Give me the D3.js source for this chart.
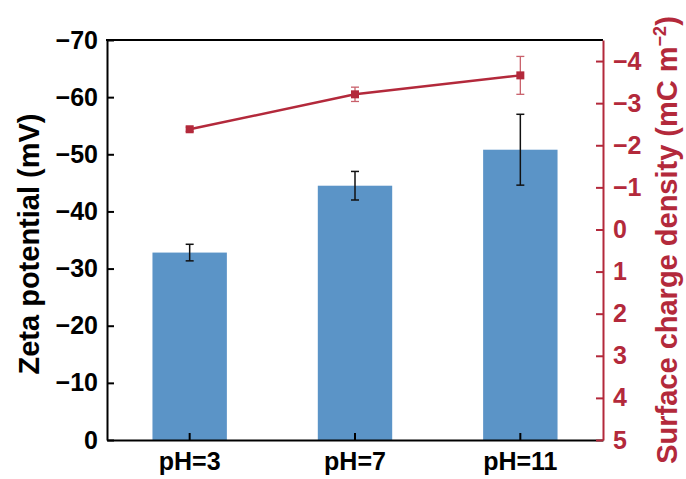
<!DOCTYPE html>
<html>
<head>
<meta charset="utf-8">
<script src="https://cdn.jsdelivr.net/npm/d3@7"></script>
<style>
  html, body { margin: 0; padding: 0; background: #fff; }
  svg { display: block; font-family: "Liberation Sans", Arial, sans-serif; }
</style>
</head>
<body>
<svg id="chart" width="686" height="479"></svg>
<script>
// Categories and measured values
const categories = ["pH=3", "pH=7", "pH=11"];
const zetaPotential = [-32.8, -44.5, -50.8];      // mV
const zetaError = [1.45, 2.5, 6.2];
const chargeDensity = [-2.38, -3.21, -3.66];     // mC m^-2
const chargeError = [0.05, 0.17, 0.45];
const leftTicks = [0, -10, -20, -30, -40, -50, -60, -70];
const rightTicks = [5, 4, 3, 2, 1, 0, -1, -2, -3, -4];

const blue = "#5b94c7";
const red = "#b3293b";

const svg = d3.select("#chart");
const L = 107, R = 603, T = 40, B = 440;

const x = d3.scaleBand().domain(categories).range([L, R]).paddingInner(0.55).paddingOuter(0.275);
const yL = d3.scaleLinear().domain([0, -70]).range([B, T]);
const yR = d3.scaleLinear().domain([5, -4.5]).range([B, T]);

// Bars
svg.append("g").selectAll("rect").data(categories).join("rect")
  .attr("x", d => x(d))
  .attr("width", x.bandwidth())
  .attr("y", (d, i) => yL(zetaPotential[i]))
  .attr("height", (d, i) => yL(0) - yL(zetaPotential[i]))
  .attr("fill", blue);

// Bar error bars
const eb = svg.append("g").attr("stroke", "#111").attr("stroke-width", 1.5);
categories.forEach((c, i) => {
  const cx = x(c) + x.bandwidth() / 2;
  const y1 = yL(zetaPotential[i] - zetaError[i]), y2 = yL(zetaPotential[i] + zetaError[i]);
  eb.append("line").attr("x1", cx).attr("x2", cx).attr("y1", y1).attr("y2", y2);
  eb.append("line").attr("x1", cx - 4).attr("x2", cx + 4).attr("y1", y1).attr("y2", y1);
  eb.append("line").attr("x1", cx - 4).attr("x2", cx + 4).attr("y1", y2).attr("y2", y2);
});

// Left axis (black, ticks inward)
const axL = svg.append("g").attr("transform", `translate(${L},0)`)
  .call(d3.axisLeft(yL).tickValues(leftTicks).tickSizeInner(-7).tickSizeOuter(0).tickPadding(9));
axL.select(".domain").attr("stroke", "#000").attr("stroke-width", 2);
axL.selectAll(".tick line").attr("stroke", "#000").attr("stroke-width", 2);
axL.selectAll(".tick text").attr("fill", "#000").attr("font-size", 25).attr("font-weight", "bold");

// Top frame line
svg.append("line").attr("x1", L - 1).attr("x2", R).attr("y1", T).attr("y2", T)
  .attr("stroke", "#000").attr("stroke-width", 2);

// Bottom axis
const axB = svg.append("g").attr("transform", `translate(0,${B})`)
  .call(d3.axisBottom(x).tickSizeInner(-7).tickSizeOuter(0).tickPadding(12));
axB.select(".domain").attr("stroke", "#000").attr("stroke-width", 2);
axB.selectAll(".tick line").attr("stroke", "#000").attr("stroke-width", 2);
axB.selectAll(".tick text").attr("fill", "#000").attr("font-size", 25).attr("font-weight", "bold");

// Right axis (red, ticks inward)
const axR = svg.append("g").attr("transform", `translate(${R},0)`)
  .call(d3.axisRight(yR).tickValues(rightTicks).tickSizeInner(-7).tickSizeOuter(0).tickPadding(10));
axR.select(".domain").attr("stroke", red).attr("stroke-width", 2);
axR.selectAll(".tick line").attr("stroke", red).attr("stroke-width", 2);
axR.selectAll(".tick text").attr("fill", red).attr("font-size", 25).attr("font-weight", "bold");

// Surface charge line with error bars and square markers
const px = (d, i) => x(categories[i]) + x.bandwidth() / 2;
const lineGen = d3.line().x((d, i) => px(d, i)).y(d => yR(d));
svg.append("path").datum(chargeDensity).attr("d", lineGen)
  .attr("fill", "none").attr("stroke", red).attr("stroke-width", 2.5);

const reb = svg.append("g").attr("stroke", "#c9606b").attr("stroke-width", 1.3);
chargeDensity.forEach((v, i) => {
  const cx = px(v, i);
  const y1 = yR(v - chargeError[i]), y2 = yR(v + chargeError[i]);
  reb.append("line").attr("x1", cx).attr("x2", cx).attr("y1", y1).attr("y2", y2);
  reb.append("line").attr("x1", cx - 4).attr("x2", cx + 4).attr("y1", y1).attr("y2", y1);
  reb.append("line").attr("x1", cx - 4).attr("x2", cx + 4).attr("y1", y2).attr("y2", y2);
});

svg.append("g").selectAll("rect").data(chargeDensity).join("rect")
  .attr("x", (d, i) => px(d, i) - 4)
  .attr("y", d => yR(d) - 4)
  .attr("width", 8).attr("height", 8)
  .attr("fill", red);

// Axis titles
svg.append("text")
  .attr("transform", `translate(39,${(T + B) / 2 + 4}) rotate(-90)`)
  .attr("text-anchor", "middle")
  .attr("font-size", 29).attr("font-weight", "bold").attr("fill", "#000")
  .text("Zeta potential (mV)");

const rt = svg.append("text")
  .attr("transform", `translate(677,${(T + B) / 2 + 0}) rotate(-90)`)
  .attr("text-anchor", "middle")
  .attr("font-size", 29).attr("font-weight", "bold").attr("fill", red);
rt.append("tspan").text("Surface charge density (mC m");
rt.append("tspan").attr("dy", -11).attr("font-size", 18).text("−2");
rt.append("tspan").attr("dy", 11).text(")");
</script>
</body>
</html>
